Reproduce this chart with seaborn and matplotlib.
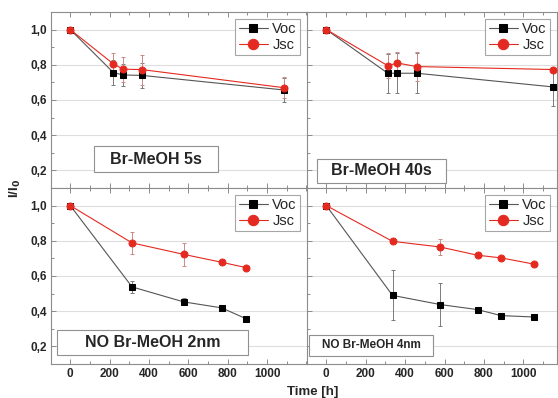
import numpy as np
import pandas as pd
import matplotlib
matplotlib.use("Agg")
import matplotlib.pyplot as plt
import seaborn as sns
from matplotlib.patches import Rectangle
from matplotlib.ticker import MultipleLocator, FixedLocator, FuncFormatter

# ── data (normalised I/I0 vs time) ──────────────────────────────────────────
# top-left: Br-MeOH 5s
t_5s      = [0, 219, 268, 363, 1085]
voc_5s    = [1.0, 0.756, 0.742, 0.740, 0.657]
voc_5s_e  = [0, 0.07, 0.065, 0.07, 0.07]
jsc_5s    = [1.0, 0.805, 0.775, 0.773, 0.670]
jsc_5s_e  = [0, 0.06, 0.07, 0.085, 0.06]

# top-right: Br-MeOH 40s
t_40s     = [0, 312, 361, 460, 1153]
voc_40s   = [1.0, 0.752, 0.752, 0.752, 0.674]
voc_40s_e = [0, 0.11, 0.115, 0.115, 0.11]
jsc_40s   = [1.0, 0.795, 0.810, 0.790, 0.773]
jsc_40s_e = [0, 0.07, 0.06, 0.08, 0.0]

# bottom-left: NO Br-MeOH 2nm
t_2nm     = [0, 314, 576, 769, 892]
voc_2nm   = [1.0, 0.538, 0.453, 0.419, 0.358]
voc_2nm_e = [0, 0.036, 0.02, 0.0, 0.0]
jsc_2nm   = [1.0, 0.788, 0.723, 0.678, 0.648]
jsc_2nm_e = [0, 0.062, 0.067, 0.0, 0.0]

# bottom-right: NO Br-MeOH 4nm
t_4nm     = [0, 336, 577, 768, 887, 1056]
voc_4nm   = [1.0, 0.490, 0.438, 0.409, 0.375, 0.367]
voc_4nm_e = [0, 0.142, 0.12, 0.0, 0.0, 0.0]
jsc_4nm   = [1.0, 0.797, 0.765, 0.718, 0.703, 0.667]
jsc_4nm_e = [0, 0.0, 0.045, 0.0, 0.0, 0.0]

titles = ["Br-MeOH 5s", "Br-MeOH 40s", "NO Br-MeOH 2nm", "NO Br-MeOH 4nm"]
x_ticks = [0, 200, 400, 600, 800, 1000]
y_ticks = [0.2, 0.4, 0.6, 0.8, 1.0]

# ──────────────────────────────────────────────────────────────────────────────
sns.set_theme(style="white")
plt.rcParams['font.family'] = ['Liberation Sans', 'DejaVu Sans']

RED   = "#e42a20"
GRAY  = "#7a7a7a"
FRAME = "#8c8c8c"

fig = plt.figure(figsize=(5.58, 3.98), dpi=100)
W, H = 558.0, 398.0
def box(x0, y0, x1, y1):
    return [x0 / W, 1 - y1 / H, (x1 - x0) / W, (y1 - y0) / H]

ax_tl = fig.add_axes(box(51, 12, 307, 188))
ax_tr = fig.add_axes(box(307, 12, 557, 188))
ax_bl = fig.add_axes(box(51, 188, 307, 364))
ax_br = fig.add_axes(box(307, 188, 557, 364))

panels = [
    (ax_tl, t_5s,  voc_5s,  voc_5s_e,  jsc_5s,  jsc_5s_e,  (-98, 1203)),
    (ax_tr, t_40s, voc_40s, voc_40s_e, jsc_40s, jsc_40s_e, (-98, 1171)),
    (ax_bl, t_2nm, voc_2nm, voc_2nm_e, jsc_2nm, jsc_2nm_e, (-98, 1203)),
    (ax_br, t_4nm, voc_4nm, voc_4nm_e, jsc_4nm, jsc_4nm_e, (-98, 1171)),
]

comma = FuncFormatter(lambda v, p: f"{v:.1f}".replace(".", ","))

for i, (ax, t, voc, voc_e, jsc, jsc_e, xl) in enumerate(panels):
    # error bars first so markers sit on top
    ax.errorbar(t, voc, yerr=voc_e, fmt="none", ecolor=GRAY, elinewidth=0.7,
                capsize=1.5, capthick=0.7, zorder=2)
    ax.errorbar(t, jsc, yerr=jsc_e, fmt="none", ecolor="#c98a86", elinewidth=0.7,
                capsize=1.5, capthick=0.7, zorder=2)

    sns.lineplot(x=t, y=voc, ax=ax, color="#555555", lw=0.8, marker="s",
                 markersize=4.2, markerfacecolor="black", markeredgecolor="black",
                 label="Voc", zorder=3)
    sns.lineplot(x=t, y=jsc, ax=ax, color=RED, lw=0.8, marker="o",
                 markersize=5, markerfacecolor=RED, markeredgecolor=RED,
                 label="Jsc", zorder=4)

    ax.set_xlim(*xl)
    ax.set_ylim(0.1, 1.1)
    ax.xaxis.set_major_locator(FixedLocator(x_ticks))
    ax.xaxis.set_minor_locator(MultipleLocator(100))
    ax.yaxis.set_major_locator(FixedLocator(y_ticks))
    ax.yaxis.set_minor_locator(MultipleLocator(0.1))
    ax.yaxis.set_major_formatter(comma)
    ax.grid(axis="y", color="#dedede", lw=0.8)
    ax.set_axisbelow(True)
    for s in ax.spines.values():
        s.set_color(FRAME)
        s.set_linewidth(0.8)
    ax.spines["right"].set_visible(i % 2 == 1)
    ax.tick_params(which="both", direction="in", top=True, bottom=True,
                   left=True, right=False, color=FRAME, width=0.7)
    ax.tick_params(which="major", length=3.5)
    ax.tick_params(which="minor", length=2)
    ax.tick_params(labelsize=8.5, pad=3)
    for lab in ax.get_xticklabels() + ax.get_yticklabels():
        lab.set_fontweight("bold")
    if i < 2:
        ax.tick_params(labelbottom=False)
    if i % 2 == 1:
        ax.tick_params(labelleft=False)
    ax.set_xlabel("")
    ax.set_ylabel("")

    leg = ax.legend(loc="upper right", fontsize=10.5, frameon=True, fancybox=False,
                    handlelength=2.0, handletextpad=0.3, borderpad=0.25,
                    labelspacing=0.1, borderaxespad=0.45, markerscale=1.5)
    leg.get_frame().set_edgecolor("#909090")
    leg.get_frame().set_linewidth(0.8)

# panel labels: framed boxes in figure pixels, text centred inside
label_boxes = [(94, 146, 218, 172, 11.5), (317, 159, 446, 183, 11.5),
               (57, 330, 248, 355, 11.5), (309, 335, 433, 356, 8.5)]
for (x0, y0, x1, y1, fs), title in zip(label_boxes, titles):
    fig.patches.append(Rectangle((x0 / W, 1 - y1 / H), (x1 - x0) / W, (y1 - y0) / H,
                                 transform=fig.transFigure, fc="white",
                                 ec="#909090", lw=0.8, zorder=5))
    fig.text((x0 + x1) / 2 / W, 1 - (y0 + y1) / 2 / H, title, fontsize=fs,
             fontweight="bold", ha="center", va="center", zorder=6)

fig.text(313 / W, 1 - 392 / H, "Time [h]", fontsize=9.5, fontweight="bold",
         ha="center", va="center")
fig.text(15 / W, 1 - 188 / H, "I/I$_\\mathbf{0}$", fontsize=9.5, fontweight="bold",
         rotation=90, ha="center", va="center")

fig.savefig("out.png", dpi=100)
